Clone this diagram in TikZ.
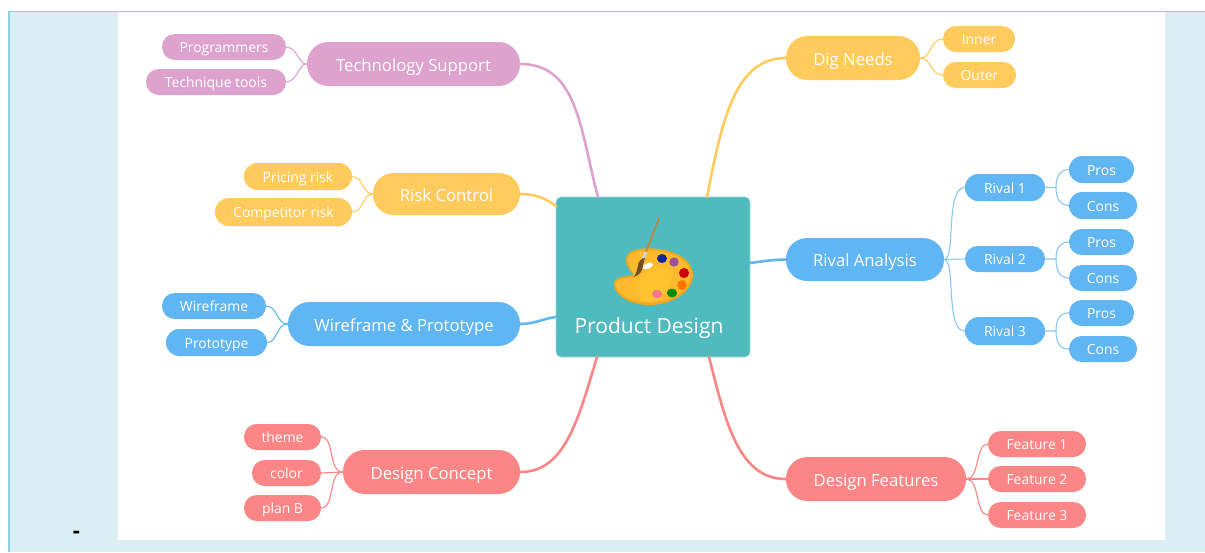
\documentclass[tikz,border=0pt]{standalone}
\usepackage{fontspec}
\setmainfont{Open Sans}
\definecolor{cpur}{HTML}{DDA3CE}
\definecolor{cyel}{HTML}{FFCB5C}
\definecolor{cblu}{HTML}{5FB6F2}
\definecolor{cred}{HTML}{FC8585}
\definecolor{cteal}{HTML}{4FBBBF}
\definecolor{cpage}{HTML}{DAEEF4}
\definecolor{cedge}{HTML}{8FD0DE}
\definecolor{palrim}{HTML}{F2A71E}
\definecolor{palbody}{HTML}{FDBA2C}
\definecolor{pallite}{HTML}{FFC22F}
\newcommand{\topicraise}{7.2pt}
\newcommand{\leafraise}{5.6pt}
\newcommand{\topicfont}{\fontsize{16.7}{18}\selectfont}
\newcommand{\leaffont}{\fontsize{13.9}{15}\selectfont}
\newcommand{\tpc}[1]{\topicfont\raisebox{-\topicraise}[0pt][0pt]{#1}}
\newcommand{\lf}[1]{\leaffont\raisebox{-\leafraise}[0pt][0pt]{#1}}
\tikzset{
  x=1pt,y=-1pt,
  mainlink/.style={line width=2.6pt,line cap=round},
  sublink/.style={line width=1.1pt,line cap=round},
}
\newcommand{\mm}[7]{%
  \pgfmathsetmacro{\mmw}{#3-#2}\pgfmathsetmacro{\mmh}{#5-#4}%
  \pgfmathsetmacro{\mmx}{(#3+#2)/2}\pgfmathsetmacro{\mmy}{(#5+#4)/2}%
  \pgfmathsetmacro{\mmr}{\mmh*0.49}%
  \node[fill=#6,text=white,inner sep=0pt,minimum width=\mmw pt,minimum height=\mmh pt,rounded corners=\mmr pt] (#1) at (\mmx,\mmy) {#7};}
\begin{document}
\begin{tikzpicture}
\useasboundingbox (0,0) rectangle (1205,552);
\fill[white] (0,0) rectangle (1205,552);
\fill[cpage] (8,11) rectangle (1205,552);
\fill[white] (118,11) rectangle (1165,540);
\draw[cedge,line width=1pt] (1205,11) -- (8.5,11) ;
\draw[cedge,line width=2pt] (9,11) -- (9,552);
\node[font=\bfseries\fontsize{22}{22}\selectfont,inner sep=0pt] (dash) at (76.5,535) {-};
% hub
\node[fill=cteal,draw=cteal!55!white,line width=0.6pt,rounded corners=5pt,minimum width=194pt,minimum height=160pt,inner sep=0pt] (hub) at (653,277) {};
\node[text=white,font=\fontsize{21}{23}\selectfont,inner sep=0pt] (hubtext) at (649,328) {Product Design};
% palette
\fill[palrim] (614,283) .. controls (615,276) and (628,276) .. (634,275)
  .. controls (626,268) and (622,256) .. (632,251)
  .. controls (650,244) and (692,250) .. (693,275)
  .. controls (692,295) and (668,305) .. (650,305)
  .. controls (630,305) and (613,295) .. (614,283) -- cycle;
\fill[palbody] (616,283) .. controls (617,278) and (630,278) .. (636,276)
  .. controls (628,268) and (624,257) .. (633,253)
  .. controls (650,247) and (690,252) .. (691,275)
  .. controls (690,293) and (667,302) .. (650,302.5)
  .. controls (631,303) and (615,294) .. (616,283) -- cycle;
\fill[pallite] (636,285) .. controls (640,268) and (665,262) .. (672,272)
  .. controls (672,288) and (660,302) .. (650,302)
  .. controls (640,302) and (634,295) .. (636,285) -- cycle;
\fill[white] (642,268) .. controls (644,263) and (651,261) .. (653,264) .. controls (653,268) and (645,271) .. (642,268) -- cycle;
\fill[blue!55!black!80!cblu] (662,258.5) ellipse (5 and 4.5);
\fill[violet!65!white!90!black] (674,262) ellipse (4.7 and 4.7);
\fill[red!80!black] (684,273) ellipse (5 and 5);
\fill[orange!90!red] (682,285) ellipse (4.7 and 5);
\fill[green!55!black] (672,293) ellipse (5.2 and 4.4);
\fill[magenta!45!red!55!white] (657,294) ellipse (5 and 4.2);
\draw[brown!85!orange,line width=1.6pt,line cap=round] (659,218) -- (646,252);
\draw[gray!35,line width=3.2pt] (646,252) -- (643,259);
\fill[brown!60!black] (645,258) .. controls (642,258) and (638,261) .. (638,266) .. controls (637,270) and (636,274) .. (634,277) .. controls (640,275) and (643,270) .. (643,265) -- cycle;
% nodes
\mm{tech}{307}{520}{42}{86}{cpur}{\tpc{Technology Support}}
\mm{prog}{162}{286}{34}{60}{cpur}{\lf{Programmers}}
\mm{tool}{146}{286}{69}{95}{cpur}{\lf{Technique tools}}
\mm{risk}{373}{520}{173}{215}{cyel}{\tpc{Risk Control}}
\mm{pric}{244}{352}{163}{190}{cyel}{\lf{Pricing risk}}
\mm{comp}{215}{352}{198}{226}{cyel}{\lf{Competitor risk}}
\mm{wire}{288}{520}{302}{346}{cblu}{\tpc{Wireframe \& Prototype}}
\mm{wf}{162}{266}{293}{319}{cblu}{\lf{Wireframe}}
\mm{pt}{166}{267}{329}{356}{cblu}{\lf{Prototype}}
\mm{conc}{343}{520}{450}{494}{cred}{\tpc{Design Concept}}
\mm{them}{244}{321}{424}{450}{cred}{\lf{theme}}
\mm{colr}{252}{321}{460}{486}{cred}{\lf{color}}
\mm{plan}{244}{321}{495}{521}{cred}{\lf{plan B}}
\mm{dig}{786}{920}{36}{80}{cyel}{\tpc{Dig Needs}}
\mm{inn}{943}{1015}{26}{52}{cyel}{\lf{Inner}}
\mm{out}{943}{1016}{62}{88}{cyel}{\lf{Outer}}
\mm{riva}{786}{944}{238}{281}{cblu}{\tpc{Rival Analysis}}
\mm{ra}{965}{1045}{174}{201}{cblu}{\lf{Rival 1}}
\mm{rb}{965}{1045}{246}{272}{cblu}{\lf{Rival 2}}
\mm{rc}{965}{1045}{317}{345}{cblu}{\lf{Rival 3}}
\mm{pa}{1069}{1134}{156}{183}{cblu}{\lf{Pros}}
\mm{ca}{1069}{1137}{192}{219}{cblu}{\lf{Cons}}
\mm{pb}{1069}{1134}{229}{255}{cblu}{\lf{Pros}}
\mm{cb}{1069}{1137}{265}{291}{cblu}{\lf{Cons}}
\mm{pc}{1069}{1134}{300}{326}{cblu}{\lf{Pros}}
\mm{cc}{1069}{1137}{336}{362}{cblu}{\lf{Cons}}
\mm{feat}{786}{966}{457}{501}{cred}{\tpc{Design Features}}
\mm{fa}{988}{1086}{431}{457}{cred}{\lf{Feature 1}}
\mm{fb}{988}{1086}{466}{492}{cred}{\lf{Feature 2}}
\mm{fc}{988}{1086}{502}{528}{cred}{\lf{Feature 3}}
% hub attachment points
\coordinate (h1) at (598,197);
\coordinate (h2) at (556,206);
\coordinate (h3) at (556,317);
\coordinate (h4) at (597,357);
\coordinate (h5) at (707,197);
\coordinate (h6) at (750,263);
\coordinate (h7) at (709,357);
\coordinate (ja) at (1056,187.5);
\coordinate (jb) at (1056,259);
\coordinate (jc) at (1056,331);
% main links
\draw[mainlink,cpur] (tech.east) .. controls (578,64) and (580,130) .. (h1);
\draw[mainlink,cyel] (risk.east) .. controls (535,194) and (545,198) .. (h2);
\draw[mainlink,cblu] (wire.east) .. controls (535,324) and (545,318) .. (h3);
\draw[mainlink,cred] (conc.east) .. controls (565,472) and (578,420) .. (h4);
\draw[mainlink,cyel] (dig.west) .. controls (735,58) and (722,120) .. (h5);
\draw[mainlink,cblu] (riva.west) .. controls (770,260) and (765,261) .. (h6);
\draw[mainlink,cred] (feat.west) .. controls (738,479) and (725,420) .. (h7);
% sub links
\draw[sublink,cpur] (prog.east) .. controls (298,48) and (298,64) .. (tech.west);
\draw[sublink,cpur] (tool.east) .. controls (298,81) and (298,64) .. (tech.west);
\draw[sublink,cyel] (pric.east) .. controls (364,177) and (362,194) .. (risk.west);
\draw[sublink,cyel] (comp.east) .. controls (364,212) and (362,194) .. (risk.west);
\draw[sublink,cblu] (wf.east) .. controls (278,306) and (276,324) .. (wire.west);
\draw[sublink,cblu] (pt.east) .. controls (278,342) and (276,324) .. (wire.west);
\draw[sublink,cred] (them.east) .. controls (335,437) and (328,472) .. (conc.west);
\draw[sublink,cred] (colr.east) -- (conc.west);
\draw[sublink,cred] (plan.east) .. controls (335,508) and (328,472) .. (conc.west);
\draw[sublink,cyel] (dig.east) .. controls (932,58) and (930,39) .. (inn.west);
\draw[sublink,cyel] (dig.east) .. controls (932,58) and (930,75) .. (out.west);
\draw[sublink,cblu!75!white] (riva.east) .. controls (956,260) and (945,187) .. (ra.west);
\draw[sublink,cblu!75!white] (riva.east) -- (rb.west);
\draw[sublink,cblu!75!white] (riva.east) .. controls (956,260) and (945,331) .. (rc.west);
\draw[sublink,cblu!75!white] (ra.east) -- (ja) .. controls (1056,176) and (1060,170) .. (pa.west);
\draw[sublink,cblu!75!white] (ja) .. controls (1056,199) and (1060,205) .. (ca.west);
\draw[sublink,cblu!75!white] (rb.east) -- (jb) .. controls (1056,248) and (1060,242) .. (pb.west);
\draw[sublink,cblu!75!white] (jb) .. controls (1056,271) and (1060,278) .. (cb.west);
\draw[sublink,cblu!75!white] (rc.east) -- (jc) .. controls (1056,319) and (1060,313) .. (pc.west);
\draw[sublink,cblu!75!white] (jc) .. controls (1056,343) and (1060,349) .. (cc.west);
\draw[sublink,cred] (feat.east) .. controls (980,479) and (975,444) .. (fa.west);
\draw[sublink,cred] (feat.east) -- (fb.west);
\draw[sublink,cred] (feat.east) .. controls (980,479) and (975,515) .. (fc.west);
\end{tikzpicture}
\end{document}
